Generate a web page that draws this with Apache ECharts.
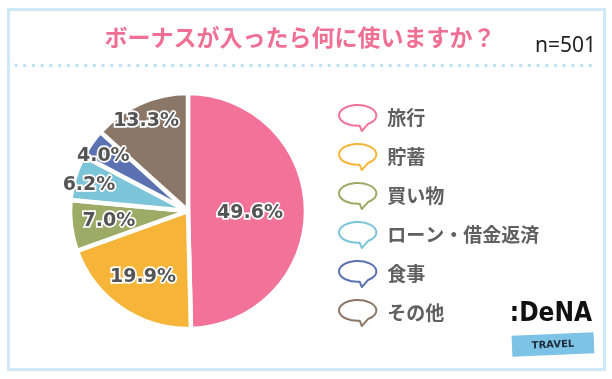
<!DOCTYPE html>
<html>
<head>
<meta charset="utf-8">
<script src="https://cdn.jsdelivr.net/npm/echarts@6/dist/echarts.min.js"></script>
<style>
  html, body { margin: 0; padding: 0; background: #fff; }
  #chart { width: 612px; height: 379px; }
</style>
</head>
<body>
<div id="chart"></div>
<script>
// ---- data ----
const titleText = 'ボーナスが入ったら何に使いますか？';
const sampleText = 'n=501';
const categories = ['旅行', '貯蓄', '買い物', 'ローン・借金返済', '食事', 'その他'];
const values = [49.6, 19.9, 7.0, 6.2, 4.0, 13.3];
const colors = ['#f3729a', '#f6b539', '#9dab66', '#7cc4d8', '#5b71b1', '#8b7767'];

// ---- layout ----
const CX = 188, CY = 211, R = 118;
const FONT = '"Noto Sans CJK JP", "Noto Sans", sans-serif';
// which labels sit at which radial depth
const labelDepthMid = [0];          // ~0.5 R
const labelDepthOuter1 = [1, 2];    // ~0.65 R
const labelDepthOuter2 = [3, 4, 5]; // ~0.85 R

const chart = echarts.init(document.getElementById('chart'), null, { renderer: 'canvas' });

const labelStyle = {
  color: '#555555',
  fontFamily: '"DejaVu Sans", sans-serif',
  fontWeight: 'bold',
  fontSize: 19,
  textBorderColor: '#ffffff',
  textBorderWidth: 3.5,
  formatter: p => p.value.toFixed(1) + '%'
};

function labelSeries(name, radius, idxs, dy) {
  return {
    name: name,
    type: 'pie',
    center: [CX, CY],
    radius: radius,
    startAngle: 90,
    clockwise: true,
    silent: true,
    legendHoverLink: false,
    itemStyle: { color: 'transparent', borderWidth: 0 },
    label: Object.assign({ position: 'inside', offset: [0, dy] }, labelStyle),
    labelLine: { show: false },
    labelLayout: { hideOverlap: false },
    emphasis: { disabled: true },
    data: categories.map((c, i) => ({
      name: c + ' ',
      value: values[i],
      label: { show: idxs.indexOf(i) >= 0 }
    }))
  };
}

const bubblePath = 'path://M22,20.9 A18,10 0 1,1 30,19.3 L24,26 Z';

const option = {
  animation: false,
  backgroundColor: '#ffffff',
  legend: {
    orient: 'vertical',
    left: 338,
    top: 104,
    padding: 0,
    itemWidth: 39,
    itemHeight: 26,
    itemGap: 11,
    icon: bubblePath,
    selectedMode: false,
    textStyle: {
      color: '#606060',
      fontFamily: FONT,
      fontWeight: 'bold',
      fontSize: 19,
      padding: [0, 0, 0, 5]
    },
    data: categories.map((c, i) => ({
      name: c,
      itemStyle: { color: '#ffffff', borderColor: colors[i], borderWidth: 2 }
    }))
  },
  graphic: [
    {
      type: 'rect', silent: true, z: -1,
      shape: { x: 8.5, y: 9.5, width: 596, height: 360 },
      style: { fill: 'none', stroke: '#cdeaf6', lineWidth: 3 }
    },
    {
      type: 'line', silent: true,
      shape: { x1: 16, y1: 65.5, x2: 597, y2: 65.5 },
      style: { stroke: '#bfe2f0', lineWidth: 3.5, lineDash: [0.1, 8.6], lineCap: 'round' }
    },
    {
      type: 'text', silent: true,
      style: {
        text: titleText, x: 300, y: 37, align: 'center', verticalAlign: 'middle',
        fill: '#ef6f95', font: 'bold 23px ' + FONT
      }
    },
    {
      type: 'text', silent: true,
      style: {
        text: sampleText, x: 596, y: 46, align: 'right', verticalAlign: 'middle',
        fill: '#222222', font: '21px "Noto Sans", sans-serif'
      }
    },
    {
      type: 'rect', silent: true,
      x: 553, y: 345, rotation: 0.04,
      shape: { x: -41, y: -11, width: 82, height: 21 },
      style: { fill: '#7dc3e6' }
    },
    {
      type: 'text', silent: true,
      x: 553, y: 345, rotation: 0.04,
      style: {
        text: 'TRAVEL', x: 0, y: 0, align: 'center', verticalAlign: 'middle',
        fill: '#1d2b3a', font: 'bold 10px "DejaVu Sans", sans-serif'
      }
    },
    {
      type: 'text', silent: true,
      style: {
        text: ':DeNA', x: 551, y: 314, align: 'center', verticalAlign: 'middle',
        fill: '#111111', font: 'bold 26px "DejaVu Sans Condensed", "DejaVu Sans", sans-serif'
      }
    }
  ],
  series: [
    {
      name: 'main',
      type: 'pie',
      center: [CX, CY],
      radius: [0, R],
      startAngle: 90,
      clockwise: true,
      silent: true,
      itemStyle: { borderColor: '#ffffff', borderWidth: 4.5 },
      label: Object.assign({ position: 'inside', offset: [0, 3] }, labelStyle, { show: true }),
      labelLine: { show: false },
      emphasis: { disabled: true },
      data: categories.map((c, i) => ({
        name: c,
        value: values[i],
        itemStyle: { color: colors[i] },
        label: { show: labelDepthMid.indexOf(i) >= 0 }
      }))
    },
    labelSeries('l1', [R * 0.3, R], labelDepthOuter1, 0),
    labelSeries('l2', [R * 0.7, R], labelDepthOuter2, 4)
  ]
};

chart.setOption(option);
</script>
</body>
</html>
